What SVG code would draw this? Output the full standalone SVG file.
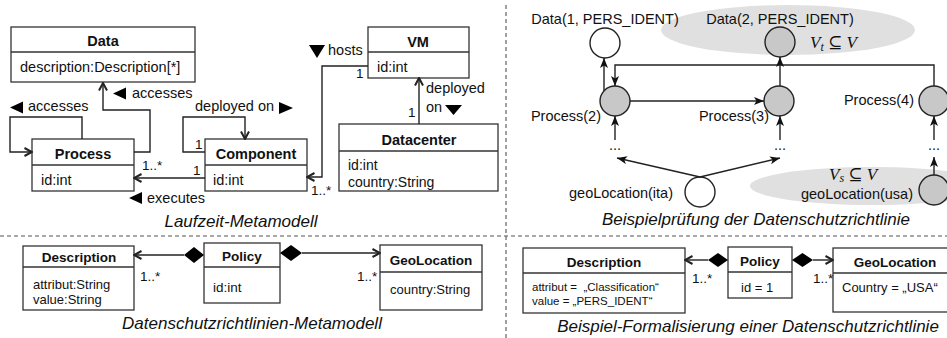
<svg xmlns="http://www.w3.org/2000/svg" width="947" height="338" viewBox="0 0 947 338">
<style>
text{font-family:"Liberation Sans",Arial,sans-serif;fill:#111}
.t{font-size:14.5px}
.b{font-size:14.5px;font-weight:bold}
.a{font-size:14px}
.m{font-size:13.5px}
.cap{font-size:17px;font-style:italic}
.sb{font-size:13.5px;font-weight:bold}
.s{font-size:13px}
.xs{font-size:11.5px}
.math{font-family:"Liberation Serif","DejaVu Serif",serif;font-size:17px;font-style:italic}
.box{fill:#fff;stroke:#333;stroke-width:1.3}
.div{stroke:#333;stroke-width:1.3}
.ln{fill:none;stroke:#222;stroke-width:1.4}
.uml{marker-end:url(#open)}
.gr{marker-end:url(#barb)}
.c{stroke:#222;stroke-width:1.4}
.w{fill:#fff}
.g{fill:#c8c8c8}
.tri{fill:#000}
.dash{stroke:#555;stroke-width:1.1;stroke-dasharray:4 3;fill:none}
.area{fill:#e0e0e0}
</style>
<defs>
<marker id="open" viewBox="0 0 10 10" refX="9" refY="5" markerWidth="10" markerHeight="10" markerUnits="userSpaceOnUse" orient="auto">
<path d="M1.5,1 L9,5 L1.5,9" fill="none" stroke="#222" stroke-width="2"/>
</marker>
<marker id="barb" viewBox="0 0 10 8" refX="10" refY="4" markerWidth="10" markerHeight="8" markerUnits="userSpaceOnUse" orient="auto">
<path d="M0,0 L10,4 L0,8 L2.5,4 z" fill="#111"/>
</marker>
</defs>

<!-- separators -->
<path class="dash" d="M0,236 H947 M506,5 V338"/>

<!-- ===== Laufzeit-Metamodell ===== -->
<g id="data">
<rect class="box" x="11" y="27" width="184" height="55"/>
<line class="div" x1="11" y1="52" x2="195" y2="52"/>
<text class="b" x="103" y="46" text-anchor="middle">Data</text>
<text class="t" x="20" y="72">description:Description[*]</text>
</g>
<g id="process">
<rect class="box" x="32" y="139" width="102" height="52"/>
<line class="div" x1="32" y1="165" x2="134" y2="165"/>
<text class="b" x="83" y="159" text-anchor="middle">Process</text>
<text class="t" x="41" y="185">id:int</text>
</g>
<g id="component">
<rect class="box" x="205" y="139" width="102" height="52"/>
<line class="div" x1="205" y1="165" x2="307" y2="165"/>
<text class="b" x="256" y="159" text-anchor="middle">Component</text>
<text class="t" x="213" y="185">id:int</text>
</g>
<g id="vm">
<rect class="box" x="368" y="27" width="101" height="51"/>
<line class="div" x1="368" y1="52" x2="469" y2="52"/>
<text class="b" x="418" y="47" text-anchor="middle">VM</text>
<text class="t" x="377" y="72">id:int</text>
</g>
<g id="datacenter">
<rect class="box" x="339" y="124" width="159" height="67"/>
<line class="div" x1="339" y1="151" x2="498" y2="151"/>
<text class="b" x="419" y="145" text-anchor="middle">Datacenter</text>
<text class="a" x="348" y="170">id:int</text>
<text class="a" x="348" y="187">country:String</text>
</g>

<g id="connectors-laufzeit">
<path class="ln uml" d="M82,139 V117 H10 V152 H32"/>
<path class="ln uml" d="M134,152 H150 V110 H103 V83"/>
<path class="ln uml" d="M205,152 H183 V117 H245 V139"/>
<path class="ln uml" d="M205,178 H134"/>
<path class="ln uml" d="M368,66 H322 V177 H307"/>
<path class="ln uml" d="M419,124 V78"/>
<polygon class="tri" points="10,107.5 23,101.5 23,113.5"/>
<text class="t" x="28" y="111">accesses</text>
<polygon class="tri" points="113,93.5 126,87.5 126,99.5"/>
<text class="t" x="132" y="98">accesses</text>
<text class="t" x="195" y="111">deployed on</text>
<polygon class="tri" points="279,102 293,108 279,114"/>
<polygon class="tri" points="309,45 325,45 317,58"/>
<text class="t" x="328" y="55">hosts</text>
<text class="t" x="426" y="93">deployed</text>
<text class="t" x="426" y="112">on</text>
<polygon class="tri" points="445,105 462,105 453.5,115"/>
<polygon class="tri" points="129,198 142,192 142,204"/>
<text class="t" x="147" y="203">executes</text>
<text class="m" x="408" y="117">1</text>
<text class="m" x="356" y="78">1</text>
<text class="m" x="311" y="195">1..*</text>
<text class="m" x="195" y="149">1</text>
<text class="m" x="193" y="175">1</text>
<text class="m" x="142" y="170">1..*</text>
</g>
<text class="cap" x="241" y="227" text-anchor="middle">Laufzeit-Metamodell</text>

<!-- ===== Beispielpruefung ===== -->
<ellipse class="area" cx="788" cy="30" rx="127" ry="25"/>
<ellipse class="area" cx="872" cy="186" rx="122" ry="19"/>
<g id="data1"><circle class="c w" cx="605" cy="43" r="15"/><text class="t" x="605" y="24" text-anchor="middle">Data(1, PERS_IDENT)</text></g>
<g id="data2"><circle class="c g" cx="780" cy="42" r="15"/><text class="t" x="780" y="24" text-anchor="middle">Data(2, PERS_IDENT)</text></g>
<g id="proc2"><circle class="c g" cx="615" cy="101" r="15"/><text class="t" x="601" y="121" text-anchor="end">Process(2)</text></g>
<g id="proc3"><circle class="c g" cx="779" cy="101" r="15"/><text class="t" x="769" y="121" text-anchor="end">Process(3)</text></g>
<g id="proc4"><circle class="c g" cx="934" cy="101" r="15"/><text class="t" x="914" y="105" text-anchor="end">Process(4)</text></g>
<g id="geoita"><circle class="c w" cx="700" cy="192" r="15"/><text class="t" x="673" y="198" text-anchor="end">geoLocation(ita)</text></g>
<g id="geousa"><circle class="c g" cx="934" cy="190" r="15"/><text class="t" x="913" y="199" text-anchor="end">geoLocation(usa)</text></g>
<g id="dots">
<text class="t" x="615" y="150" text-anchor="middle">...</text>
<text class="t" x="780" y="150" text-anchor="middle">...</text>
<text class="t" x="934" y="150" text-anchor="middle">...</text>
</g>
<text class="math" x="810" y="48">V<tspan font-size="12" dy="3">t</tspan><tspan dy="-3" font-style="normal"> ⊆ </tspan>V</text>
<text class="math" x="829" y="180">V<tspan font-size="12" dy="2">s</tspan><tspan dy="-2" font-style="normal"> ⊆ </tspan>V</text>
<g id="connectors-beispiel">
<path class="ln gr" d="M604,91 V58"/>
<path class="ln gr" d="M934,86 V65 H615 V86"/>
<path class="ln gr" d="M780,86 V57"/>
<path class="ln gr" d="M630,101 H764"/>
<path class="ln gr" d="M615,140 V116"/>
<path class="ln gr" d="M780,140 V116"/>
<path class="ln gr" d="M934,140 V116"/>
<path class="ln gr" d="M700,177 L617,158"/>
<path class="ln gr" d="M700,177 L780,158"/>
<path class="ln gr" d="M934,175 V157"/>
</g>
<text class="cap" x="756" y="225" text-anchor="middle">Beispielprüfung der Datenschutzrichtlinie</text>

<!-- ===== Datenschutzrichtlinien-Metamodell ===== -->
<g id="desc1">
<rect class="box" x="23" y="246" width="111" height="64"/>
<line class="div" x1="23" y1="267" x2="134" y2="267"/>
<text class="sb" x="79" y="262" text-anchor="middle">Description</text>
<text class="s" x="33" y="289">attribut:String</text>
<text class="s" x="33" y="304">value:String</text>
</g>
<g id="policy1">
<rect class="box" x="204" y="243" width="76" height="60"/>
<line class="div" x1="204" y1="267" x2="280" y2="267"/>
<text class="sb" x="242" y="261" text-anchor="middle">Policy</text>
<text class="m" x="213" y="292">id:int</text>
</g>
<g id="geo1">
<rect class="box" x="380" y="245" width="102" height="65"/>
<line class="div" x1="380" y1="272" x2="482" y2="272"/>
<text class="sb" x="431" y="265" text-anchor="middle">GeoLocation</text>
<text class="s" x="390" y="294">country:String</text>
</g>
<g id="connectors-meta">
<polygon class="tri" points="204,255 194,247 184,255 194,263"/>
<path class="ln uml" d="M184,255 H134"/>
<polygon class="tri" points="280,253 291,245 302,253 291,261"/>
<path class="ln uml" d="M302,253 H380"/>
<text class="m" x="140" y="281">1..*</text>
<text class="m" x="357" y="281">1..*</text>
</g>
<text class="cap" x="252" y="329" text-anchor="middle">Datenschutzrichtlinien-Metamodell</text>

<!-- ===== Beispiel-Formalisierung ===== -->
<g id="desc2">
<rect class="box" x="523" y="248" width="162" height="65"/>
<line class="div" x1="523" y1="273" x2="685" y2="273"/>
<text class="sb" x="604" y="267" text-anchor="middle">Description</text>
<text class="xs" x="532" y="291" xml:space="preserve">attribut =  „Classification“</text>
<text class="xs" x="532" y="305">value = „PERS_IDENT“</text>
</g>
<g id="policy2">
<rect class="box" x="728" y="247" width="64" height="51"/>
<line class="div" x1="728" y1="272" x2="792" y2="272"/>
<text class="sb" x="760" y="266" text-anchor="middle">Policy</text>
<text class="s" x="741" y="292">id = 1</text>
</g>
<g id="geo2">
<rect class="box" x="833" y="248" width="124" height="64"/>
<line class="div" x1="833" y1="273" x2="957" y2="273"/>
<text class="sb" x="895" y="267" text-anchor="middle">GeoLocation</text>
<text class="s" x="842" y="292">Country = „USA“</text>
</g>
<g id="connectors-formal">
<polygon class="tri" points="728,260 718,253 708,260 718,267"/>
<path class="ln uml" d="M708,260 H685"/>
<polygon class="tri" points="792,260 802.5,253 813,260 802.5,267"/>
<path class="ln uml" d="M813,260 H833"/>
<text class="m" x="692" y="283">1..*</text>
<text class="m" x="813" y="283">1..*</text>
</g>
<text class="cap" x="748" y="332" text-anchor="middle">Beispiel-Formalisierung einer Datenschutzrichtlinie</text>
</svg>
